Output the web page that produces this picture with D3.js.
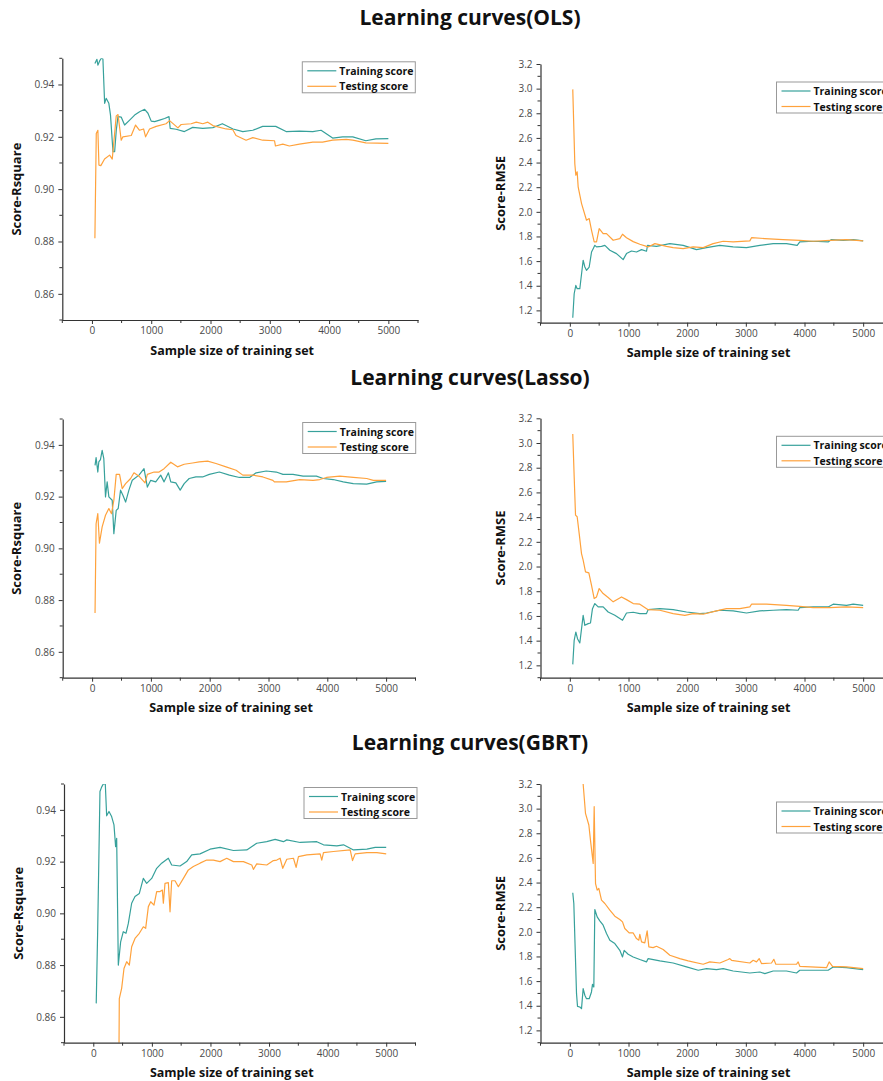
<!DOCTYPE html>
<html>
<head>
<meta charset="utf-8">
<script src="https://cdn.jsdelivr.net/npm/d3@7"></script>
<style>
  html, body { margin: 0; padding: 0; background: #fff; }
  svg { display: block; }
  text { font-family: "Open Sans", "Noto Sans", sans-serif; }
</style>
</head>
<body>
<svg id="chart" width="883" height="1081"></svg>
<script>
// ---------------- DATA ----------------
const modelTitles = ["Learning curves(OLS)", "Learning curves(Lasso)", "Learning curves(GBRT)"];
const seriesNames = ["Training score", "Testing score"];
const xTicks = [0, 1000, 2000, 3000, 4000, 5000];
const xMinorTicks = [-500, 500, 1500, 2500, 3500, 4500, 5500];
const r2Ticks = [0.86, 0.88, 0.90, 0.92, 0.94];
const r2MinorTicks = [0.85, 0.87, 0.89, 0.91, 0.93, 0.95];
const rmseTicks = [1.2, 1.4, 1.6, 1.8, 2.0, 2.2, 2.4, 2.6, 2.8, 3.0, 3.2];
const rmseMinorTicks = [1.1, 1.3, 1.5, 1.7, 1.9, 2.1, 2.3, 2.5, 2.7, 2.9, 3.1];

// OLS
const olsR2Train = [[50,0.9480],[84,0.9496],[101,0.9474],[130,0.9490],[158,0.9500],[185,0.9497],[214,0.9328],[240,0.9347],[285,0.9328],[313,0.9283],[355,0.9143],[383,0.9143],[411,0.9226],[439,0.9277],[495,0.9275],[551,0.9245],[636,0.9264],[720,0.9283],[804,0.9296],[889,0.9305],[945,0.9290],[1000,0.9260],[1057,0.9258],[1141,0.9264],[1226,0.9270],[1300,0.9277],[1320,0.9232],[1420,0.9229],[1560,0.9220],[1700,0.9236],[1870,0.9232],[2040,0.9235],[2200,0.9250],[2380,0.9230],[2545,0.9220],[2713,0.9225],[2880,0.9240],[3100,0.9240],[3275,0.9220],[3500,0.9222],[3725,0.9220],[3865,0.9225],[4060,0.9195],[4230,0.9200],[4400,0.9200],[4620,0.9185],[4790,0.9192],[5000,0.9193]];
const olsR2Test = [[50,0.8812],[73,0.9213],[100,0.9225],[118,0.9092],[150,0.9090],[213,0.9115],[298,0.9130],[343,0.9115],[410,0.9280],[440,0.9285],[494,0.9187],[522,0.9200],[663,0.9205],[736,0.9245],[803,0.9225],[871,0.9230],[905,0.9200],[972,0.9230],[1084,0.9240],[1250,0.9250],[1310,0.9262],[1450,0.9234],[1505,0.9247],[1674,0.9250],[1760,0.9256],[1870,0.9250],[1955,0.9256],[2040,0.9243],[2264,0.9230],[2376,0.9227],[2430,0.9205],[2600,0.9187],[2713,0.9197],[2880,0.9187],[3080,0.9185],[3095,0.9165],[3220,0.9172],[3330,0.9165],[3500,0.9172],[3725,0.9180],[3890,0.9180],[4060,0.9187],[4290,0.9190],[4400,0.9187],[4620,0.9177],[5000,0.9175]];
const olsRmseTrain = [[50,1.140],[74,1.335],[102,1.403],[125,1.376],[170,1.376],[227,1.607],[256,1.552],[284,1.525],[330,1.552],[370,1.674],[398,1.701],[426,1.728],[455,1.715],[540,1.720],[597,1.728],[682,1.688],[795,1.661],[909,1.612],[966,1.661],[1051,1.682],[1136,1.674],[1222,1.693],[1307,1.680],[1324,1.728],[1477,1.720],[1705,1.742],[1932,1.728],[2159,1.693],[2330,1.709],[2557,1.728],[2784,1.715],[3011,1.709],[3239,1.728],[3466,1.742],[3693,1.742],[3875,1.728],[3920,1.756],[4148,1.761],[4403,1.756],[4460,1.775],[4659,1.769],[4830,1.775],[5000,1.764]];
const olsRmseTest = [[50,2.994],[85,2.390],[102,2.297],[125,2.325],[142,2.203],[200,2.067],[284,1.932],[330,1.945],[370,1.850],[415,1.756],[455,1.756],[500,1.864],[568,1.823],[625,1.823],[739,1.769],[852,1.783],[898,1.818],[966,1.790],[1080,1.758],[1193,1.737],[1335,1.715],[1450,1.742],[1648,1.720],[1761,1.709],[1932,1.701],[2102,1.715],[2273,1.709],[2443,1.742],[2614,1.761],[2784,1.756],[3068,1.764],[3097,1.790],[3324,1.783],[3636,1.775],[3920,1.769],[4148,1.761],[4432,1.769],[4716,1.775],[5000,1.764]];

// Lasso
const lassoR2Train = [[50,0.9321],[68,0.9351],[97,0.9295],[114,0.9334],[142,0.9343],[171,0.9379],[199,0.9347],[228,0.9199],[256,0.9257],[285,0.9199],[342,0.9186],[370,0.9057],[410,0.9147],[444,0.9154],[484,0.9225],[524,0.9205],[570,0.9179],[626,0.9225],[683,0.9263],[797,0.9283],[883,0.9308],[940,0.9237],[997,0.9263],[1082,0.9257],[1167,0.9283],[1224,0.9257],[1298,0.9292],[1338,0.9257],[1424,0.9253],[1498,0.9225],[1566,0.9250],[1651,0.9270],[1765,0.9276],[1879,0.9276],[1993,0.9286],[2164,0.9295],[2335,0.9283],[2506,0.9274],[2677,0.9274],[2790,0.9292],[2961,0.9299],[3132,0.9295],[3246,0.9286],[3417,0.9286],[3588,0.9279],[3815,0.9279],[3929,0.9270],[4100,0.9266],[4271,0.9257],[4442,0.9250],[4670,0.9248],[4840,0.9257],[5000,0.9259]];
const lassoR2Test = [[50,0.8750],[68,0.9095],[97,0.9134],[125,0.9020],[171,0.9083],[228,0.9128],[285,0.9154],[330,0.9134],[370,0.9186],[410,0.9286],[467,0.9286],[512,0.9231],[570,0.9250],[655,0.9270],[712,0.9292],[797,0.9279],[900,0.9253],[940,0.9286],[1054,0.9295],[1139,0.9295],[1224,0.9308],[1338,0.9333],[1452,0.9315],[1566,0.9325],[1708,0.9330],[1822,0.9334],[1965,0.9337],[2107,0.9328],[2278,0.9315],[2449,0.9302],[2563,0.9283],[2734,0.9283],[2904,0.9276],[3075,0.9263],[3100,0.9257],[3303,0.9257],[3531,0.9266],[3758,0.9263],[3872,0.9266],[3986,0.9274],[4214,0.9279],[4442,0.9274],[4670,0.9270],[4783,0.9263],[5000,0.9263]];
const lassoRmseTrain = [[50,1.208],[74,1.403],[102,1.470],[131,1.416],[170,1.381],[227,1.605],[256,1.524],[313,1.538],[352,1.543],[386,1.659],[426,1.700],[483,1.673],[568,1.673],[653,1.632],[767,1.605],[898,1.565],[966,1.624],[1080,1.630],[1193,1.619],[1307,1.619],[1335,1.651],[1534,1.659],[1761,1.651],[1989,1.632],[2216,1.619],[2330,1.624],[2557,1.646],[2784,1.641],[3011,1.624],[3239,1.641],[3466,1.646],[3693,1.651],[3892,1.646],[3920,1.668],[4148,1.673],[4403,1.673],[4489,1.695],[4716,1.686],[4830,1.695],[5000,1.686]];
const lassoRmseTest = [[50,3.073],[74,2.727],[97,2.416],[125,2.403],[159,2.268],[199,2.105],[227,2.051],[267,1.957],[324,1.949],[369,1.849],[415,1.741],[455,1.754],[500,1.822],[568,1.781],[653,1.749],[739,1.714],[881,1.754],[966,1.732],[1080,1.700],[1193,1.695],[1335,1.651],[1534,1.646],[1761,1.619],[1960,1.605],[2102,1.619],[2273,1.614],[2500,1.641],[2670,1.659],[2898,1.659],[3068,1.673],[3097,1.695],[3352,1.695],[3693,1.686],[3920,1.678],[4148,1.668],[4432,1.668],[4716,1.673],[5000,1.668]];

// GBRT
const gbrtR2Train = [[50,0.8652],[74,0.8923],[114,0.9471],[142,0.9488],[171,0.9500],[205,0.9500],[228,0.9377],[268,0.9394],[313,0.9374],[353,0.9342],[381,0.9258],[399,0.9290],[427,0.8800],[467,0.8890],[512,0.8929],[558,0.8923],[598,0.8961],[655,0.9039],[712,0.9065],[786,0.9077],[854,0.9135],[911,0.9116],[997,0.9135],[1082,0.9174],[1167,0.9194],[1281,0.9213],[1338,0.9187],[1481,0.9183],[1594,0.9200],[1680,0.9226],[1822,0.9230],[1993,0.9248],[2164,0.9255],[2392,0.9243],[2620,0.9245],[2790,0.9271],[2961,0.9277],[3104,0.9286],[3246,0.9277],[3303,0.9284],[3531,0.9274],[3815,0.9277],[3929,0.9265],[4157,0.9261],[4271,0.9265],[4442,0.9245],[4670,0.9248],[4812,0.9255],[5000,0.9255]];
const gbrtR2Test = [[438,0.8450],[444,0.8670],[484,0.8710],[524,0.8787],[570,0.8813],[615,0.8800],[655,0.8871],[712,0.8903],[786,0.8923],[854,0.8948],[894,0.8942],[940,0.9026],[980,0.9045],[1036,0.9032],[1082,0.9084],[1139,0.9084],[1179,0.9090],[1196,0.9039],[1224,0.9116],[1281,0.9119],[1310,0.9006],[1338,0.9126],[1395,0.9126],[1452,0.9103],[1538,0.9135],[1623,0.9168],[1708,0.9181],[1822,0.9194],[1936,0.9206],[2050,0.9206],[2164,0.9200],[2278,0.9213],[2392,0.9200],[2563,0.9200],[2705,0.9187],[2733,0.9170],[2790,0.9191],[2961,0.9187],[3075,0.9204],[3132,0.9206],[3189,0.9213],[3234,0.9174],[3303,0.9209],[3417,0.9213],[3462,0.9178],[3502,0.9219],[3645,0.9226],[3872,0.9230],[3900,0.9206],[3929,0.9235],[4100,0.9239],[4385,0.9245],[4425,0.9204],[4470,0.9230],[4670,0.9235],[4840,0.9235],[5000,0.9230]];
const gbrtRmseTrain = [[50,2.317],[68,2.230],[114,1.498],[131,1.395],[170,1.390],[199,1.376],[227,1.539],[256,1.485],[284,1.457],[330,1.457],[369,1.512],[386,1.574],[409,1.552],[426,2.181],[466,2.121],[511,2.089],[568,2.054],[625,1.986],[682,1.932],[767,1.905],[852,1.850],[898,1.796],[926,1.850],[994,1.818],[1080,1.796],[1193,1.775],[1307,1.756],[1335,1.783],[1534,1.764],[1761,1.747],[1989,1.715],[2188,1.688],[2330,1.701],[2500,1.693],[2614,1.701],[2784,1.682],[3068,1.666],[3239,1.674],[3324,1.661],[3466,1.682],[3693,1.682],[3864,1.666],[3920,1.688],[4148,1.688],[4403,1.688],[4489,1.715],[4716,1.709],[5000,1.693]];
const gbrtRmseTest = [[210,3.250],[227,3.200],[267,2.961],[324,2.867],[358,2.718],[398,2.555],[415,3.016],[438,2.392],[466,2.338],[494,2.352],[540,2.257],[597,2.230],[682,2.176],[767,2.127],[852,2.100],[898,2.081],[937,2.027],[1011,1.991],[1080,1.991],[1136,1.945],[1176,1.932],[1193,1.980],[1222,1.918],[1278,1.910],[1318,2.008],[1347,1.878],[1420,1.872],[1477,1.883],[1591,1.856],[1705,1.810],[1875,1.783],[2017,1.764],[2273,1.737],[2386,1.756],[2557,1.747],[2699,1.775],[2727,1.783],[2756,1.769],[3068,1.747],[3125,1.769],[3182,1.756],[3227,1.783],[3267,1.742],[3438,1.747],[3477,1.777],[3511,1.737],[3864,1.737],[3892,1.756],[3920,1.720],[4375,1.709],[4420,1.756],[4477,1.720],[4716,1.715],[5000,1.701]];

// ---------------- STYLE / LAYOUT ----------------
const colTrain = "#37a19b";
const colTest = "#ffa23c";
const axisColor = "#333";
const tickTextColor = "#4a4a4a";

const svg = d3.select("#chart");

const panels = [
  {kind:"r2",   train: olsR2Train,    test: olsR2Test,    box:{l:62.3, r:418,  t:58.3,  b:320}},
  {kind:"rmse", train: olsRmseTrain,  test: olsRmseTest,  box:{l:540.5,r:892.5,t:64,    b:322.7}},
  {kind:"r2",   train: lassoR2Train,  test: lassoR2Test,  box:{l:62.7, r:415.5,t:419,   b:677.7}},
  {kind:"rmse", train: lassoRmseTrain,test: lassoRmseTest,box:{l:540.5,r:892.5,t:418.3, b:677.7}},
  {kind:"r2",   train: gbrtR2Train,   test: gbrtR2Test,   box:{l:64,   r:415.5,t:784,   b:1042.7}},
  {kind:"rmse", train: gbrtRmseTrain, test: gbrtRmseTest, box:{l:540.5,r:892.5,t:784,   b:1042.7}}
];

const titleY = [25, 385, 750];
modelTitles.forEach((t, i) => {
  svg.append("text")
    .attr("x", 470).attr("y", titleY[i])
    .attr("text-anchor", "middle")
    .attr("font-size", 21).attr("font-weight", 700).attr("fill", "#111")
    .text(t);
});

panels.forEach((p, pi) => {
  const b = p.box;
  const x = d3.scaleLinear().domain([-500, 5500]).range([b.l, b.r]);
  const y = p.kind === "r2"
    ? d3.scaleLinear().domain([0.85, 0.95]).range([b.b, b.t])
    : d3.scaleLinear().domain([1.1, 3.2]).range([b.b, b.t]);
  const yTicks = p.kind === "r2" ? r2Ticks : rmseTicks;
  const yMinor = p.kind === "r2" ? r2MinorTicks : rmseMinorTicks;
  const yFmt = p.kind === "r2" ? d3.format(".2f") : d3.format(".1f");

  const g = svg.append("g");

  const clipId = "clip" + pi;
  svg.append("defs").append("clipPath").attr("id", clipId)
    .append("rect").attr("x", b.l).attr("y", b.t).attr("width", b.r - b.l).attr("height", b.b - b.t);

  const line = d3.line().x(d => x(d[0])).y(d => y(d[1]));
  const lg = g.append("g").attr("clip-path", `url(#${clipId})`);
  lg.append("path").datum(p.train).attr("d", line)
    .attr("fill", "none").attr("stroke", colTrain).attr("stroke-width", 1.2).attr("stroke-linejoin", "round");
  lg.append("path").datum(p.test).attr("d", line)
    .attr("fill", "none").attr("stroke", colTest).attr("stroke-width", 1.2).attr("stroke-linejoin", "round");

  const xAxis = g.append("g").attr("transform", `translate(0,${b.b})`)
    .call(d3.axisBottom(x).tickValues(xTicks).tickSize(4).tickSizeOuter(0).tickPadding(3).tickFormat(d3.format("d")));
  g.append("g").selectAll("line").data(xMinorTicks).join("line")
    .attr("x1", d => x(d)).attr("x2", d => x(d)).attr("y1", b.b).attr("y2", b.b + 3)
    .attr("stroke", axisColor).attr("stroke-width", 1);

  const yAxis = g.append("g").attr("transform", `translate(${b.l},0)`)
    .call(d3.axisLeft(y).tickValues(yTicks).tickSize(4).tickSizeOuter(0).tickPadding(4).tickFormat(yFmt));
  g.append("g").selectAll("line").data(yMinor).join("line")
    .attr("x1", b.l - 3).attr("x2", b.l).attr("y1", d => y(d)).attr("y2", d => y(d))
    .attr("stroke", axisColor).attr("stroke-width", 1);

  [xAxis, yAxis].forEach(a => {
    a.select(".domain").attr("stroke", axisColor).attr("stroke-width", 1.2);
    a.selectAll(".tick line").attr("stroke", axisColor);
    a.selectAll(".tick text").attr("fill", tickTextColor).attr("font-size", 10)
      .attr("font-family", "'Open Sans', sans-serif");
  });

  g.append("text")
    .attr("x", (b.l + b.r) / 2 - 8).attr("y", b.b + 34.5)
    .attr("text-anchor", "middle").attr("font-size", 12.5).attr("font-weight", 700).attr("fill", "#111")
    .text("Sample size of training set");
  const yTitleX = p.kind === "r2" ? b.l - 46 : b.l - 40;
  g.append("text")
    .attr("transform", `translate(${yTitleX + 4.5},${(b.t + b.b) / 2}) rotate(-90)`)
    .attr("text-anchor", "middle").attr("font-size", 13).attr("font-weight", 700).attr("fill", "#111")
    .text(p.kind === "r2" ? "Score-Rsquare" : "Score-RMSE");

  const lx = p.kind === "r2" ? b.l + 240 : b.l + 236;
  const ly = p.kind === "r2" ? b.t + 3.5 : b.t + 18;
  const lw = p.kind === "r2" ? 113 : 140;
  const leg = g.append("g").attr("transform", `translate(${lx},${ly})`);
  leg.append("rect").attr("x", 0).attr("y", 0).attr("width", lw).attr("height", 31)
    .attr("fill", "#fff").attr("stroke", "#999").attr("stroke-width", 1);
  [colTrain, colTest].forEach((c, i) => {
    const yy = 9 + i * 15.5;
    leg.append("line").attr("x1", 5).attr("x2", 34).attr("y1", yy).attr("y2", yy)
      .attr("stroke", c).attr("stroke-width", 1.2);
    leg.append("text").attr("x", 37).attr("y", yy + 4).attr("font-size", 10.5).attr("font-weight", 700)
      .attr("fill", "#111").text(seriesNames[i]);
  });
});
</script>
</body>
</html>
